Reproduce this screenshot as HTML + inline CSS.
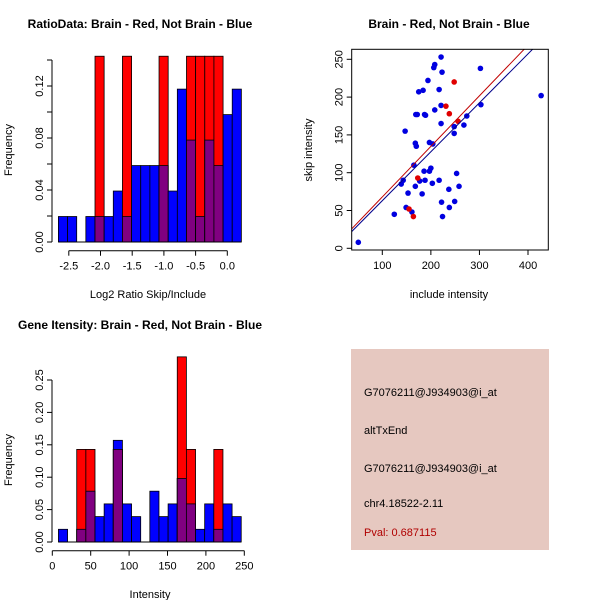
<!DOCTYPE html>
<html><head><meta charset="utf-8"><style>
body{margin:0;background:#fff}
svg{font-family:"Liberation Sans",sans-serif;display:block}
</style></head><body>
<svg id="c" width="600" height="600" viewBox="0 0 600 600">
<rect width="600" height="600" fill="#fff"/>
<text x="140" y="28" font-size="12" font-weight="bold" text-anchor="middle">RatioData: Brain - Red, Not Brain - Blue</text>
<text x="449" y="28" font-size="12" font-weight="bold" text-anchor="middle">Brain - Red, Not Brain - Blue</text>
<text x="140" y="329" font-size="12" font-weight="bold" text-anchor="middle">Gene Itensity: Brain - Red, Not Brain - Blue</text>
<text x="148" y="298" font-size="11" text-anchor="middle">Log2 Ratio Skip/Include</text>
<text x="449" y="298" font-size="11" text-anchor="middle">include intensity</text>
<text x="150" y="598" font-size="11" text-anchor="middle">Intensity</text>
<text transform="translate(12,150) rotate(-90)" font-size="11" text-anchor="middle">Frequency</text>
<text transform="translate(312,150) rotate(-90)" font-size="11" text-anchor="middle">skip intensity</text>
<text transform="translate(12,460) rotate(-90)" font-size="11" text-anchor="middle">Frequency</text>
<g>
<rect x="351" y="349" width="198" height="201" fill="#e6c8c0"/>
<text x="364" y="396" font-size="11">G7076211@J934903@i_at</text>
<text x="364" y="434" font-size="11">altTxEnd</text>
<text x="364" y="472" font-size="11">G7076211@J934903@i_at</text>
<text x="364" y="507" font-size="11">chr4.18522-2.11</text>
<text x="364" y="536" font-size="11" fill="#b00000">Pval: 0.687115</text>
</g>
</svg>
<script>
const ratioBlue=[0.0196,0.0196,0,0.0196,0.0196,0.0196,0.0392,0.0196,0.0588,0.0588,0.0588,0.0588,0.0392,0.1176,0.0784,0.0196,0.0784,0.0588,0.098,0.1176];
const ratioRed=[0,0,0,0,0.1429,0,0,0.1429,0,0,0,0.1429,0,0,0.1429,0.1429,0.1429,0.1429,0,0];
const ratioStart=-2.664, ratioBin=0.1443;
const ratioXTicks=["-2.5","-2.0","-1.5","-1.0","-0.5","0.0"];
const ratioYTicks=["0.00","0.04","0.08","0.12"];
const intBlue=[0.0196,0,0.0196,0.0784,0.0392,0.0588,0.1569,0.0588,0.0392,0,0.0784,0.0392,0.0588,0.098,0.0588,0.0196,0.0588,0.0196,0.0588,0.0392];
const intRed=[0,0,0.1429,0.1429,0,0,0.1429,0,0,0,0,0,0,0.2857,0.1429,0,0,0.1429,0,0];
const intStart=8, intBin=11.9;
const intXTicks=["0","50","100","150","200","250"];
const intYTicks=["0.00","0.05","0.10","0.15","0.20","0.25"];
const blueX=[50.6,124.7,149,161,153,139,143,168,177,182,188,186,197,200,203,217,222,224,238,237,249,253,258,165,147,168,170,197,204,169,172,187,189,208,221,221,248,248,268,274,303,302,427,175,184,194,217,206,208,221,223];
const blueY=[7.9,45,54,48,73,85,90,82,89,72,90,102,102,106,86,90,61,42,54,78,62,99,82,110,155,139,135,140,138,177,177,177,176,183,189,165,161,152,163,175,190,238,202,207,209,222,210,239,243,253,233];
const redX=[155,164,173,231,238,248,256];
const redY=[52,42,93,188,178,220,168];
const fitRed=[0.669,1.0];
const fitBlue=[0.6475,-1.8];
const scXTicks=[100,200,300,400];
const scYTicks=[0,50,100,150,200,250];

const svg=document.getElementById('c');
const NS='http://www.w3.org/2000/svg';
function mk(t,a){const e=document.createElementNS(NS,t);for(const k in a)e.setAttribute(k,a[k]);svg.appendChild(e);return e;}

function hist(blue,red,start,bin,sx,sy,pfx){
  for(let i=0;i<blue.length;i++){
    const x0=sx(start+i*bin),x1=sx(start+(i+1)*bin);
    const b=blue[i],r=red[i],m=Math.min(b,r);
    if(b>0){const e=mk('rect',{x:x0,y:sy(b),width:x1-x0,height:sy(0)-sy(b),fill:'#0000ff',stroke:'#000','stroke-width':0.8});
      
      }
    if(r>0){const e=mk('rect',{x:x0,y:sy(r),width:x1-x0,height:sy(0)-sy(r),fill:'#ff0000',stroke:'#000','stroke-width':0.8});
      
      }
    if(m>0){const e=mk('rect',{x:x0,y:sy(m),width:x1-x0,height:sy(0)-sy(m),fill:'#800080',stroke:'#000','stroke-width':0.8});
      
      }
  }
}
function xaxis(ticks,sx,y,pfx){
  const v=ticks.map(Number);
  const l=mk('line',{x1:sx(v[0]),x2:sx(v[v.length-1]),y1:y,y2:y,stroke:'#000'});
  
  
  ticks.forEach(t=>{const x=sx(Number(t));mk('line',{x1:x,x2:x,y1:y,y2:y+5,stroke:'#000'});
    const e=mk('text',{x:x,y:y+19,'font-size':11,'text-anchor':'middle'});e.textContent=t;
    
    });
}
function yaxis(ticks,sy,x,pfx,minor,top){
  const v=ticks.map(Number);
  const l=mk('line',{x1:x,x2:x,y1:sy(v[0]),y2:sy(top!==undefined?top:v[v.length-1]),stroke:'#000'});
  
  
  if(minor){for(let t=v[0];t<=top+1e-9;t+=minor){mk('line',{x1:x-5,x2:x,y1:sy(t),y2:sy(t),stroke:'#000'});}}
  ticks.forEach(t=>{const y=sy(Number(t));mk('line',{x1:x-5,x2:x,y1:y,y2:y,stroke:'#000'});
    const e=mk('text',{transform:`translate(${x-9},${y}) rotate(-90)`,'font-size':11,'text-anchor':'middle'});e.textContent=t;
    
    });
}
// ratio histogram
const rx=v=>227.3+v*63.4, ry=v=>242-v*1300;
hist(ratioBlue,ratioRed,ratioStart,ratioBin,rx,ry,'ratio');
mk('line',{x1:rx(ratioStart),x2:rx(ratioStart+20*ratioBin),y1:242,y2:242,stroke:'#000'});
xaxis(ratioXTicks,rx,250.7,'ratio');
yaxis(ratioYTicks,ry,52,'ratio',0.02,0.14);
// intensity histogram
const ix=v=>52.3+v*0.768, iy=v=>542-v*648;
hist(intBlue,intRed,intStart,intBin,ix,iy,'intensity');
mk('line',{x1:ix(intStart),x2:ix(intStart+20*intBin),y1:542,y2:542,stroke:'#000'});
xaxis(intXTicks,ix,550.7,'intensity');
yaxis(intYTicks,iy,52,'intensity');
// scatter
const L=351.7,R=548.3,T=49.3,B=250;
const sx=v=>382.3+(v-100)*0.4857, sy=v=>248.3-v*0.756;
const clip=document.createElementNS(NS,'clipPath');clip.setAttribute('id','sc');
const cr=document.createElementNS(NS,'rect');cr.setAttribute('x',L);cr.setAttribute('y',T);cr.setAttribute('width',R-L);cr.setAttribute('height',B-T);clip.appendChild(cr);svg.appendChild(clip);
blueX.forEach((x,i)=>{const e=mk('circle',{cx:sx(x),cy:sy(blueY[i]),r:2.8,fill:'#0000e0'});
  
  });
redX.forEach((x,i)=>{const e=mk('circle',{cx:sx(x),cy:sy(redY[i]),r:2.8,fill:'#e00000'});
  
  });
[[fitBlue,'#00008b','blue-fit-line'],[fitRed,'#c00000','red-fit-line']].forEach(([f,c,n])=>{
  const e=mk('line',{x1:sx(0),y1:sy(f[1]),x2:sx(500),y2:sy(f[0]*500+f[1]),stroke:c,'stroke-width':1,'clip-path':'url(#sc)'});
  
  });
const bx=mk('rect',{x:L,y:T,width:R-L,height:B-T,fill:'none',stroke:'#000'});


scXTicks.forEach(t=>{const x=sx(t);mk('line',{x1:x,x2:x,y1:B,y2:B+5,stroke:'#000'});
  const e=mk('text',{x:x,y:B+19,'font-size':11,'text-anchor':'middle'});e.textContent=t;
  
  });
scYTicks.forEach(t=>{const y=sy(t);mk('line',{x1:L-5,x2:L,y1:y,y2:y,stroke:'#000'});
  const e=mk('text',{transform:`translate(${L-9},${y}) rotate(-90)`,'font-size':11,'text-anchor':'middle'});e.textContent=t;
  
  });
</script>
</body></html>
